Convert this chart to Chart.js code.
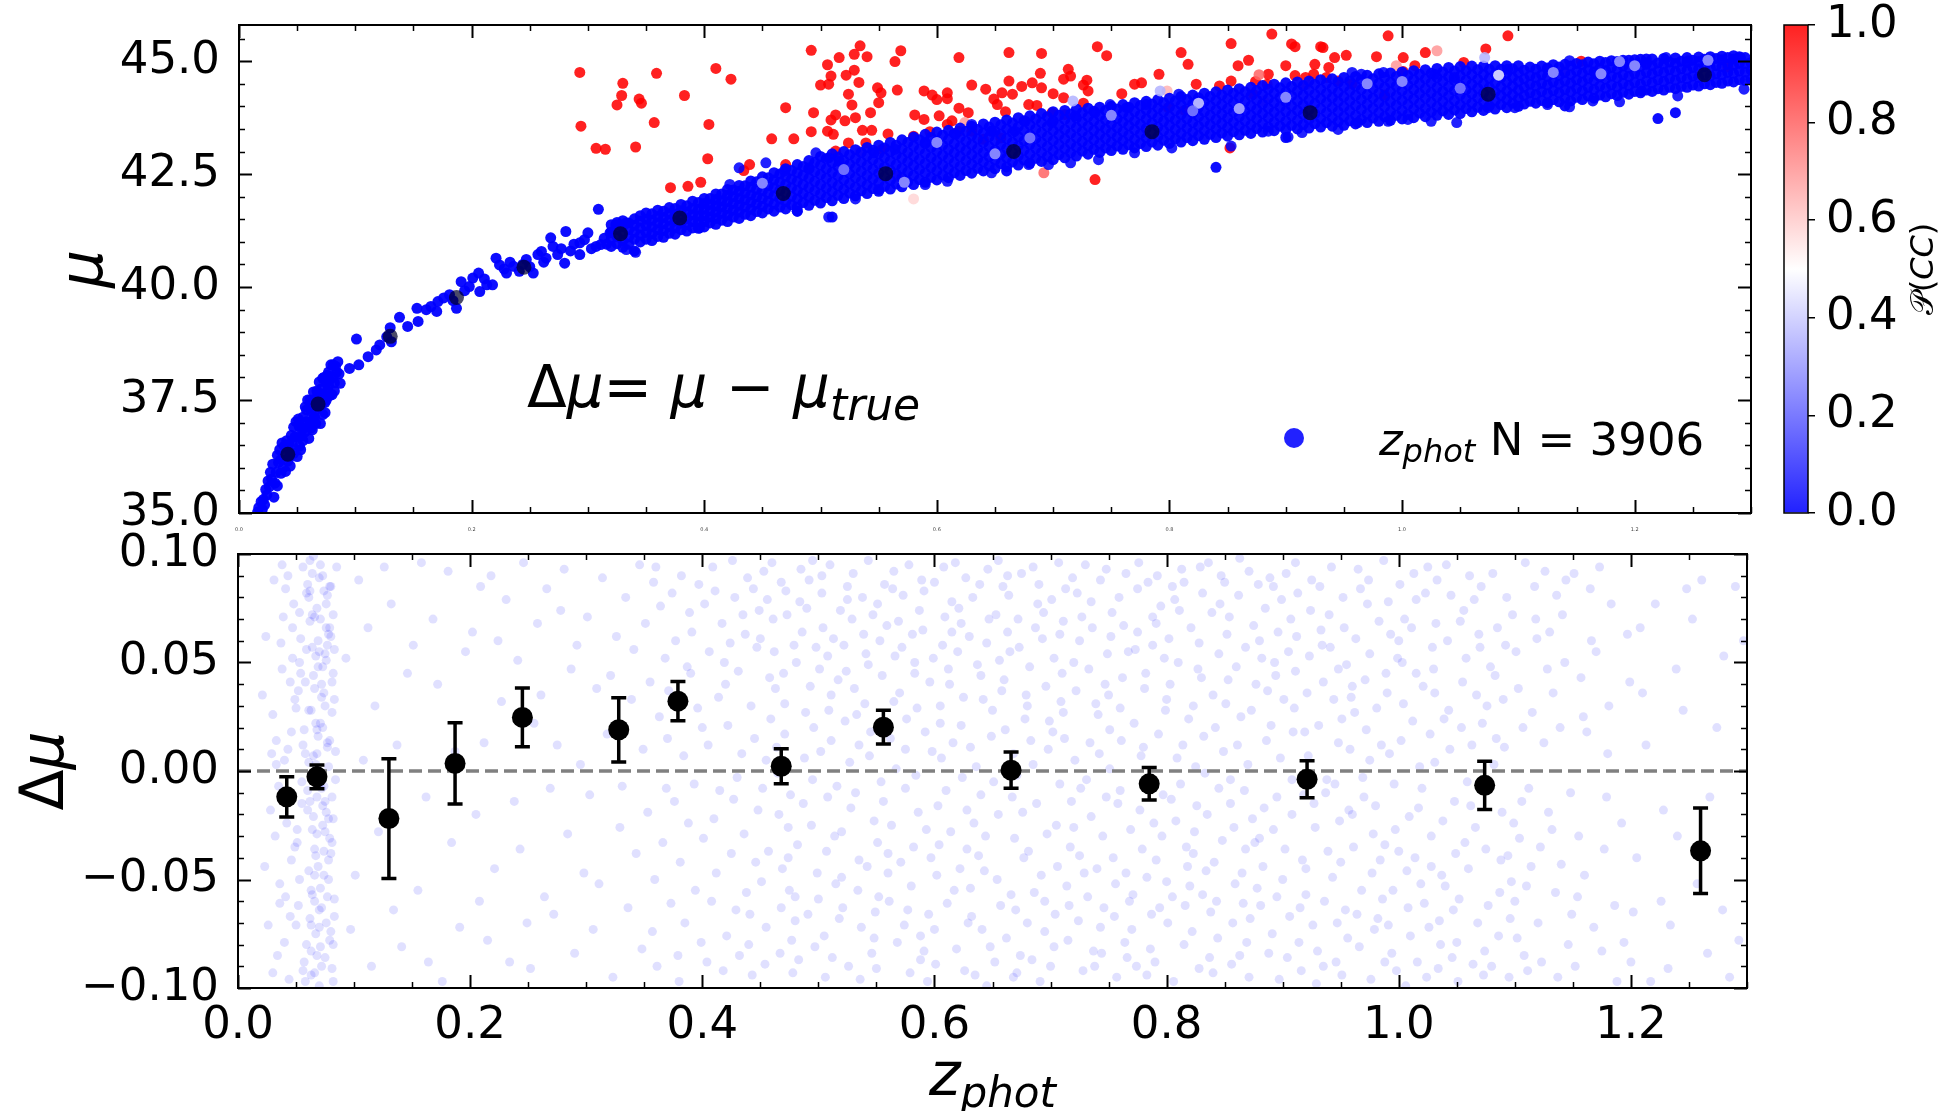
<!DOCTYPE html>
<html>
<head>
<meta charset="utf-8">
<script src="https://cdn.jsdelivr.net/npm/chart.js@4.4.1/dist/chart.umd.min.js"></script>
<style>
  body { margin: 0; background: #fff; width: 1944px; height: 1111px; position: relative; overflow: hidden; }
  canvas { position: absolute; }
</style>
</head>
<body>
<canvas id="topChart" width="1944" height="540" style="left:0;top:0"></canvas>
<canvas id="cbar" width="244" height="540" style="left:1700px;top:0"></canvas>
<canvas id="botChart" width="1944" height="591" style="left:0;top:520px"></canvas>
<script>
// binned means (black markers)
var binZ   = [0.042, 0.068, 0.130, 0.187, 0.245, 0.328, 0.379, 0.468, 0.556, 0.666, 0.785, 0.921, 1.074, 1.260];
var binMu  = [36.30, 37.41, 38.91, 39.77, 40.44, 41.18, 41.53, 42.07, 42.51, 43.00, 43.44, 43.86, 44.27, 44.70];
var binDmu = [-0.0119, -0.0027, -0.0219, 0.0035, 0.0247, 0.0190, 0.0322, 0.0022, 0.0202, 0.0004, -0.0059, -0.0038, -0.0066, -0.0368];
var binErr = [0.0093, 0.0055, 0.0276, 0.0187, 0.0135, 0.0148, 0.0091, 0.0081, 0.0078, 0.0083, 0.0075, 0.0085, 0.0111, 0.0197];

// low-z part of the Hubble diagram, P(CC) ~ 0: flat list z, mu, z, mu, ...
var lowCurve = [
  0.016,35.02, 0.017,35.12, 0.019,35.25, 0.020,35.08, 0.021,35.3, 0.022,35.18, 0.023,35.52, 0.024,35.4, 0.025,35.71,
  0.026,35.58, 0.027,35.9, 0.028,35.75, 0.029,36.08, 0.030,35.35, 0.031,35.66, 0.032,35.9, 0.033,35.6, 0.034,36.12,
  0.035,36.4, 0.036,36.18, 0.037,36.55, 0.038,36.0, 0.039,36.48, 0.033,36.28, 0.036,35.88,
  0.040,35.92, 0.041,36.3, 0.042,36.15, 0.043,36.52, 0.044,36.33, 0.045,36.72, 0.046,36.5, 0.047,36.9, 0.048,36.68,
  0.049,37.02, 0.041,36.6, 0.044,36.04, 0.047,36.32, 0.043,36.22,
  0.050,36.25, 0.051,36.68, 0.052,36.48, 0.053,36.91, 0.054,36.7, 0.055,37.12, 0.056,36.88, 0.057,37.35, 0.058,37.02,
  0.059,37.5, 0.051,37.08, 0.053,36.4, 0.055,36.6, 0.057,36.8, 0.052,36.9, 0.058,37.28,
  0.060,36.65, 0.061,37.02, 0.062,36.88, 0.063,37.31, 0.064,37.1, 0.065,37.52, 0.066,37.28, 0.067,37.7, 0.068,37.45,
  0.069,37.9, 0.061,37.5, 0.062,37.25, 0.064,37.68, 0.066,36.98, 0.067,37.35, 0.063,36.84, 0.069,37.6, 0.065,37.12,
  0.070,36.98, 0.071,37.4, 0.072,37.18, 0.073,37.62, 0.074,37.45, 0.075,37.88, 0.076,37.7, 0.077,38.12, 0.078,37.95,
  0.079,38.28, 0.071,37.75, 0.072,37.98, 0.074,37.22, 0.076,38.05, 0.078,37.6, 0.073,38.0, 0.075,37.5, 0.077,37.82,
  0.080,37.62, 0.081,38.0, 0.082,37.88, 0.083,38.25, 0.084,38.12, 0.085,38.35, 0.086,38.08, 0.087,37.87, 0.082,37.7,
  0.081,38.28, 0.095,38.2, 0.101,38.85, 0.103,38.28, 0.111,38.46, 0.118,38.61, 0.121,38.72, 0.127,38.9, 0.130,39.1,
  0.131,38.79, 0.138,39.33, 0.145,39.13, 0.154,39.24, 0.153,39.53, 0.161,39.5, 0.165,39.57, 0.171,39.68, 0.170,39.46,
  0.176,39.76, 0.181,39.83, 0.184,39.7, 0.187,39.53, 0.191,40.12, 0.194,39.92, 0.198,40.01, 0.201,40.2, 0.206,40.31,
  0.207,39.9, 0.211,40.18, 0.213,40.05, 0.218,40.05, 0.221,40.64, 0.224,40.49, 0.228,40.4, 0.230,40.31, 0.233,40.55,
  0.236,40.46, 0.241,40.35, 0.244,40.5, 0.247,40.61, 0.250,40.45, 0.253,40.31, 0.257,40.72, 0.260,40.79, 0.262,40.55,
  0.264,40.64, 0.268,41.09, 0.270,40.9, 0.274,40.72, 0.277,40.85, 0.280,40.53, 0.281,41.23, 0.285,40.8, 0.288,40.95,
  0.293,40.98, 0.293,40.72, 0.297,41.05, 0.300,41.2, 0.303,40.85, 0.307,40.9, 0.309,41.72, 0.311,40.94, 0.314,41.08,
  0.316,40.95, 0.319,41.2, 0.324,41.38, 0.333,41.42
];

// scattered P(CC) ~ 0 points along the upper and lower edges of the band: z, mu, z, mu, ...
var edgeCurve = [
  0.453,42.75, 0.469,42.57, 0.49,42.64, 0.496,42.97, 0.507,42.86, 0.516,42.79, 0.53,41.95, 0.507,41.55, 0.48,41.68,
  0.546,42.97, 0.564,43.05, 0.59,43.2, 0.616,43.38, 0.63,43.6, 0.647,43.45, 0.667,43.45, 0.676,43.67, 0.699,43.64,
  0.719,43.79, 0.736,43.86, 0.749,44.04, 0.763,43.97, 0.78,44.04, 0.808,44.27, 0.825,44.12, 0.853,43.12,
  0.739,42.82, 0.715,42.75, 0.696,42.71, 0.679,42.71, 0.647,42.53, 0.609,42.34, 0.59,42.27, 0.55,42.16, 0.77,42.97,
  0.802,43.08, 0.957,44.75, 0.965,44.71, 0.984,44.75, 1.028,44.71, 1.045,44.64, 1.091,44.82, 1.125,44.82, 1.144,45.01,
  1.167,44.71, 1.187,44.97, 1.209,44.97, 1.227,45.08, 1.246,45.01, 1.291,45.08, 1.294,44.38, 1.237,44.23, 1.206,44.34,
  1.187,44.1, 1.164,44.12, 1.144,43.99, 1.125,44.04, 1.097,43.97, 1.074,43.97, 1.047,43.64, 1.025,43.67, 1.005,43.71,
  0.988,43.67, 0.962,43.64, 0.945,43.49, 0.914,43.42, 0.902,43.32, 0.885,43.45, 0.396,41.31, 0.341,40.77, 0.333,40.83,
  0.422,42.27, 0.43,42.64
];

// dense part of the Hubble diagram, P(CC) ~ 0: each row is [z, mu, mu, ...]
var bandRows = [
  [0.320,40.9,41.06,41.22,41.38],[0.325,40.96,41.12,41.28,41.43],[0.330,40.88,41.03,41.19,41.34,41.47],[0.335,40.95,41.11,41.27,41.42],
  [0.340,40.8,41.06,41.22,41.37,41.51],[0.345,41.0,41.15,41.31,41.46,41.58],[0.350,41.06,41.21,41.36,41.5,41.64],[0.355,41.03,41.18,41.33,41.48,41.62],
  [0.360,41.12,41.27,41.42,41.56,41.7],[0.365,41.1,41.25,41.4,41.54,41.68],[0.370,41.19,41.34,41.48,41.62,41.76],[0.375,41.17,41.31,41.46,41.61,41.74],
  [0.380,41.27,41.41,41.55,41.69,41.83],[0.385,41.24,41.38,41.52,41.66,41.8],[0.390,41.31,41.45,41.6,41.74,41.9],[0.395,41.3,41.44,41.58,41.72,41.87],
  [0.400,41.33,41.45,41.58,41.72,41.85,41.96],[0.405,41.42,41.55,41.69,41.83,41.96],[0.410,41.39,41.52,41.66,41.8,41.94,42.06],
  [0.415,41.48,41.63,41.77,41.91,42.06],[0.420,41.45,41.59,41.74,41.89,42.03,42.16],[0.425,41.55,41.7,41.85,42.0,42.15],
  [0.430,41.52,41.66,41.81,41.96,42.12,42.25],[0.435,41.61,41.77,41.93,42.08,42.24],[0.440,41.58,41.72,41.88,42.04,42.21,42.35],
  [0.445,41.67,41.84,42.0,42.16,42.33],[0.450,41.64,41.79,41.96,42.13,42.29,42.44],[0.455,41.73,41.9,42.07,42.24,42.42],
  [0.460,41.68,41.84,42.02,42.2,42.37,42.53],[0.465,41.77,41.95,42.14,42.32,42.5],[0.470,41.73,41.89,42.08,42.27,42.45,42.62],
  [0.475,41.82,42.01,42.2,42.39,42.58],[0.480,41.68,41.77,41.95,42.14,42.34,42.53,42.71],[0.485,41.87,42.07,42.27,42.47,42.67],
  [0.490,41.81,41.99,42.2,42.41,42.61,42.8],[0.495,41.92,42.13,42.34,42.55,42.76],[0.500,41.86,42.06,42.27,42.49,42.7,42.89],
  [0.505,41.98,42.19,42.41,42.62,42.84],[0.510,41.55,41.91,42.11,42.32,42.54,42.75,42.95],[0.515,42.03,42.24,42.46,42.67,42.88],
  [0.520,41.96,42.16,42.37,42.59,42.8,43.0],[0.525,42.08,42.29,42.51,42.72,42.93],[0.530,42.02,42.21,42.42,42.64,42.85,43.04],
  [0.535,42.13,42.34,42.56,42.77,42.98],[0.540,42.07,42.26,42.47,42.69,42.9,43.09],[0.545,42.18,42.39,42.61,42.82,43.03],
  [0.550,42.12,42.31,42.52,42.74,42.95,43.14],[0.555,42.23,42.44,42.66,42.87,43.08],[0.560,42.17,42.36,42.58,42.79,43.0,43.2],
  [0.565,42.28,42.5,42.71,42.93,43.14],[0.570,42.22,42.42,42.63,42.85,43.06,43.26],[0.575,42.33,42.55,42.77,42.98,43.2],
  [0.580,42.27,42.47,42.69,42.9,43.12,43.32],[0.585,42.38,42.6,42.82,43.04,43.26],[0.590,42.32,42.52,42.74,42.96,43.18,43.38],
  [0.595,42.43,42.65,42.87,43.09,43.31],[0.600,42.37,42.57,42.79,43.01,43.23,43.43],[0.605,42.48,42.7,42.92,43.14,43.36],
  [0.610,42.42,42.62,42.84,43.05,43.27,43.47],[0.615,42.53,42.75,42.97,43.18,43.4],[0.620,42.47,42.67,42.89,43.1,43.32,43.52],
  [0.625,42.58,42.8,43.02,43.23,43.45],[0.630,42.52,42.72,42.93,43.15,43.36,43.56],[0.635,42.63,42.84,43.06,43.28,43.49],
  [0.640,42.57,42.77,42.98,43.2,43.41,43.61],[0.645,42.68,42.89,43.11,43.33,43.54],[0.650,42.62,42.81,43.03,43.24,43.45,43.65],
  [0.655,42.73,42.94,43.16,43.38,43.59],[0.660,42.57,42.66,42.86,43.07,43.29,43.5,43.7],[0.665,42.77,42.98,43.2,43.42,43.63],
  [0.670,42.7,42.9,43.12,43.33,43.55,43.75],[0.675,42.81,43.03,43.24,43.46,43.68],[0.680,42.74,42.94,43.16,43.37,43.59,43.79],
  [0.685,42.85,43.07,43.29,43.5,43.72],[0.690,42.78,42.98,43.2,43.42,43.64,43.84],[0.695,42.89,43.11,43.33,43.55,43.77],
  [0.700,42.82,43.02,43.24,43.46,43.68,43.88],[0.705,42.93,43.15,43.37,43.58,43.8],[0.710,42.86,43.06,43.28,43.49,43.71,43.91],
  [0.715,42.97,43.18,43.4,43.62,43.83],[0.720,42.9,43.1,43.31,43.53,43.74,43.94],[0.725,43.01,43.22,43.44,43.65,43.86],
  [0.730,42.94,43.13,43.34,43.56,43.77,43.96],[0.735,43.05,43.26,43.47,43.68,43.89],[0.740,42.98,43.17,43.38,43.58,43.79,43.98],
  [0.745,43.08,43.29,43.5,43.7,43.91],[0.750,43.02,43.2,43.41,43.61,43.82,44.0],[0.755,43.12,43.32,43.53,43.73,43.94],
  [0.760,43.05,43.24,43.44,43.65,43.85,44.04],[0.765,43.15,43.36,43.57,43.77,43.98],[0.770,43.08,43.27,43.48,43.68,43.89,44.08],
  [0.775,43.18,43.39,43.6,43.81,44.02],[0.780,43.11,43.3,43.51,43.72,43.92,44.11],[0.785,43.21,43.42,43.63,43.84,44.05],
  [0.790,43.14,43.33,43.54,43.75,43.96,44.15],[0.795,43.25,43.46,43.67,43.88,44.08],[0.800,43.18,43.37,43.58,43.78,43.99,44.18],
  [0.805,43.28,43.49,43.7,43.91,44.12],[0.810,43.21,43.4,43.61,43.82,44.03,44.22],[0.815,43.31,43.52,43.73,43.94,44.15],
  [0.820,43.24,43.43,43.64,43.85,44.06,44.25],[0.825,43.35,43.56,43.77,43.98,44.19],[0.830,43.27,43.46,43.67,43.88,44.1,44.29],
  [0.835,43.38,43.59,43.8,44.01,44.22],[0.840,42.65,43.31,43.5,43.71,43.92,44.13,44.32],[0.845,43.41,43.62,43.83,44.04,44.25],
  [0.850,43.34,43.53,43.74,43.95,44.17,44.36],[0.855,43.44,43.65,43.87,44.08,44.29],[0.860,43.37,43.56,43.77,43.98,44.2,44.39],
  [0.865,43.47,43.68,43.9,44.11,44.32],[0.870,43.4,43.59,43.8,44.01,44.23,44.42],[0.875,43.51,43.72,43.93,44.14,44.35],
  [0.880,43.43,43.62,43.84,44.05,44.26,44.46],[0.885,43.54,43.75,43.96,44.17,44.38],[0.890,43.46,43.65,43.87,44.08,44.29,44.49],
  [0.895,43.56,43.77,43.99,44.2,44.41],[0.900,43.31,43.48,43.67,43.89,44.11,44.32,44.52],[0.905,43.58,43.8,44.01,44.23,44.44],
  [0.910,43.5,43.69,43.91,44.12,44.34,44.54],[0.915,43.6,43.82,44.03,44.25,44.46],[0.920,43.52,43.71,43.93,44.14,44.36,44.56],
  [0.925,43.62,43.84,44.06,44.27,44.49],[0.930,43.54,43.73,43.95,44.17,44.38,44.59],[0.935,43.64,43.86,44.08,44.29,44.51],
  [0.940,43.56,43.75,43.97,44.19,44.4,44.61],[0.945,43.66,43.88,44.1,44.31,44.53],[0.950,43.58,43.77,43.99,44.21,44.43,44.64],
  [0.955,43.68,43.9,44.12,44.34,44.56],[0.960,43.61,43.8,44.02,44.24,44.45,44.66],[0.965,43.71,43.93,44.15,44.37,44.59],
  [0.970,43.64,43.83,44.05,44.26,44.48,44.69],[0.975,43.74,43.96,44.18,44.39,44.61],[0.980,43.67,43.86,44.08,44.29,44.51,44.72],
  [0.985,43.77,43.99,44.21,44.42,44.64],[0.990,43.69,43.88,44.1,44.32,44.53,44.74],[0.995,43.8,44.02,44.23,44.45,44.66],
  [1.000,43.72,43.91,44.13,44.35,44.56,44.76],[1.005,43.82,44.04,44.25,44.47,44.68],[1.010,43.75,43.94,44.16,44.37,44.59,44.79],
  [1.015,43.85,44.06,44.28,44.5,44.71],[1.020,43.77,43.96,44.18,44.39,44.61,44.81],[1.025,43.87,44.09,44.3,44.52,44.73],
  [1.030,43.8,43.99,44.21,44.42,44.64,44.84],[1.035,43.9,44.11,44.33,44.55,44.76],[1.040,43.82,44.01,44.23,44.44,44.66,44.86],
  [1.045,43.92,44.13,44.35,44.57,44.78],[1.050,43.84,44.03,44.25,44.46,44.68,44.88],[1.055,43.95,44.16,44.37,44.58,44.79],
  [1.060,43.88,44.07,44.28,44.49,44.7,44.89],[1.065,43.98,44.19,44.4,44.6,44.81],[1.070,43.91,44.1,44.3,44.5,44.71,44.89],
  [1.075,44.01,44.21,44.42,44.62,44.82],[1.080,43.94,44.12,44.32,44.52,44.72,44.9],[1.085,44.04,44.24,44.43,44.63,44.82],
  [1.090,43.97,44.15,44.34,44.54,44.73,44.9],[1.095,44.07,44.26,44.45,44.64,44.83],[1.100,44.0,44.17,44.36,44.55,44.74,44.9],
  [1.105,44.05,44.24,44.42,44.61,44.8],[1.110,44.11,44.3,44.49,44.68,44.87],[1.115,44.07,44.26,44.45,44.63,44.82],
  [1.120,44.13,44.33,44.51,44.7,44.89],[1.125,44.08,44.28,44.47,44.66,44.85],[1.130,44.15,44.35,44.54,44.73,44.92],
  [1.135,44.1,44.3,44.49,44.68,44.87],[1.140,44.01,44.18,44.37,44.56,44.75,44.93],[1.145,44.12,44.32,44.51,44.7,44.89],
  [1.150,44.2,44.4,44.59,44.78,44.95],[1.155,44.15,44.34,44.54,44.73,44.92],[1.160,44.23,44.42,44.62,44.81,44.98],
  [1.165,44.18,44.37,44.57,44.76,44.94],[1.170,44.25,44.45,44.65,44.84,45.0],[1.175,44.21,44.4,44.6,44.79,44.97],
  [1.180,44.28,44.48,44.67,44.86,45.01],[1.185,44.24,44.43,44.63,44.82,44.99],[1.190,44.31,44.51,44.7,44.89,45.02],
  [1.195,44.27,44.46,44.66,44.85,45.02],[1.200,44.33,44.53,44.73,44.91,45.03],[1.205,44.3,44.49,44.69,44.88,45.04],
  [1.210,44.36,44.56,44.75,44.93,45.05],[1.215,44.33,44.52,44.72,44.9,45.05],[1.220,43.73,44.39,44.59,44.78,44.96],
  [1.225,44.36,44.55,44.75,44.93,45.06],[1.230,44.42,44.62,44.81,44.98],[1.235,43.86,44.39,44.58,44.77,44.95,45.07],
  [1.240,44.44,44.64,44.83,45.0],[1.245,44.42,44.61,44.8,44.97,45.08],[1.250,44.47,44.67,44.86,45.02],
  [1.255,44.45,44.64,44.83,44.99,45.09],[1.260,44.5,44.7,44.88,45.04],[1.265,44.48,44.67,44.86,45.01,45.1],
  [1.270,44.53,44.72,44.9,45.06],[1.275,44.51,44.7,44.88,45.03,45.11],[1.280,44.56,44.75,44.93,45.08],
  [1.285,44.54,44.73,44.91,45.05,45.12],[1.290,44.59,44.78,44.95,45.1],[1.295,44.57,44.76,44.94,45.08],[1.300,44.6,44.8,44.97]
];

// likely core-collapse points: [z, mu, P(CC)]
var ccPts = [
  [0.293,44.75,1],[0.294,43.56,1],[0.307,43.07,1],[0.315,43.05,1],[0.33,44.51,1],[0.329,44.24,1],[0.325,44.03,1],[0.344,44.16,1],
  [0.346,44.07,1],[0.341,43.1,1],[0.359,44.73,1],[0.357,43.64,1],[0.383,44.24,1],[0.41,44.84,1],[0.423,44.6,1],[0.404,43.6,1],
  [0.403,42.84,1],[0.397,42.32,1],[0.386,42.23,1],[0.371,42.2,1],
  [0.492,45.24,1],[0.534,45.34,1],[0.529,45.15,1],[0.54,45.1,1],[0.569,45.23,1],[0.564,44.99,1],[0.619,45.08,1],[0.662,45.19,1],
  [0.69,45.17,1],[0.738,45.32,1],[0.746,45.12,1],[0.81,45.19,1],[0.816,44.93,1],[0.853,45.39,1],[0.859,44.9,1],[0.506,44.92,1],
  [0.516,45.08,1],[0.509,44.67,1],[0.522,44.69,1],[0.529,44.8,1],[0.533,44.53,1],[0.5,44.47,1],[0.507,44.49,1],[0.524,44.27,1],
  [0.549,44.41,1],[0.552,44.3,1],[0.566,44.36,1],[0.527,44.03,1],[0.55,44.08,1],[0.543,43.86,1],[0.47,43.97,1],[0.494,43.86,1],
  [0.458,43.28,1],[0.477,43.28,1],[0.492,43.44,1],[0.506,43.45,1],[0.511,43.38,1],[0.509,43.7,1],[0.513,43.81,1],[0.521,43.68,1],
  [0.53,43.75,1],[0.536,43.47,1],[0.544,43.47,1],[0.558,43.39,1],[0.524,43.19,1],[0.539,43.19,1],[0.553,43.05,1],[0.513,43.01,1],
  [0.47,42.71,1],[0.439,42.71,1],[0.434,42.58,1],[0.589,44.34,1],[0.596,44.25,1],[0.6,44.15,1],[0.609,44.3,1],[0.609,44.17,1],
  [0.581,43.81,1],[0.589,43.71,1],[0.602,43.79,1],[0.613,43.68,1],[0.619,43.96,1],[0.627,43.86,1],[0.63,44.47,1],[0.642,44.38,1],
  [0.649,44.16,1],[0.652,44.04,1],[0.662,44.56,1],[0.656,44.3,1],[0.665,44.27,1],[0.673,44.44,1],[0.682,44.52,1],[0.689,44.73,1],
  [0.69,44.41,1],[0.7,44.28,1],[0.709,44.6,1],[0.713,44.82,1],[0.715,44.67,1],[0.709,44.19,1],[0.729,44.58,1],[0.726,44.47,1],
  [0.73,44.34,1],[0.726,44.07,1],[0.759,44.28,1],[0.77,44.49,1],[0.776,44.52,1],[0.791,44.71,1],[0.823,44.49,1],[0.843,44.45,1],
  [0.853,44.56,1],[0.799,43.97,1],[0.813,43.91,1],[0.659,43.88,1],[0.679,44.04,1],[0.686,44.02,1],[0.699,43.86,1],[0.71,43.82,1],
  [0.58,43.34,1],[0.594,43.44,1],[0.609,43.6,1],[0.619,43.45,1],[0.63,43.45,1],[0.64,43.27,1],[0.647,43.45,1],[0.655,43.3,1],
  [0.692,42.53,0.8],[0.736,42.38,1],[0.852,43.08,1],[0.624,43.64,0.7],[0.534,43.0,0.7],[0.58,41.95,0.58],[0.566,42.45,0.75],
  [0.798,44.34,0.65],
  [0.888,45.6,1],[0.988,45.56,1],[1.091,45.56,1],[0.905,45.38,1],[0.908,45.32,1],[0.93,45.32,1],[0.932,45.3,1],[0.942,45.08,1],
  [0.952,45.13,1],[0.978,45.1,1],[1.001,45.08,1],[1.02,45.19,1],[1.03,45.23,0.7],[1.072,45.27,1],[1.053,44.97,1],[0.9,44.9,1],
  [0.925,44.93,1],[0.937,44.86,1],[0.924,44.71,1],[0.917,44.64,1],[0.908,44.68,1],[0.868,45.02,1],[0.885,44.71,1],[0.874,44.55,1],
  [0.884,44.49,1],[0.935,44.64,1],[0.945,44.56,1],[0.957,44.5,1],[1.001,44.77,1],[1.011,44.9,1],[0.995,44.9,0.7],[1.154,45.0,1],
  [0.985,44.25,1],[0.872,44.27,1],[0.9,44.05,0.7],[0.881,44.12,0.65],[1.28,44.87,1],[1.138,44.78,0.7],[1.117,44.86,0.5],
  [1.071,44.7,0.5],[0.984,44.6,0.5],[0.877,44.7,0.8],[0.917,44.48,0.8]
];

// faint-coloured points inside the band: [z, mu, P(CC)]
var lightPts = [
  [0.572,42.32,0.3],[0.792,44.34,0.35],[0.717,44.12,0.35],[0.825,44.07,0.4],[1.071,45.08,0.35],[1.083,44.69,0.45],
  [1.263,45.02,0.3],[1.187,44.99,0.3],[1.171,44.72,0.3],[0.45,42.3,0.3],[0.52,42.6,0.25],[0.6,43.2,0.3],[0.68,43.3,0.25],
  [0.75,43.8,0.3],[0.82,43.9,0.25],[0.9,44.2,0.3],[0.97,44.5,0.3],[1.05,44.4,0.25],[1.13,44.75,0.3],[1.2,44.9,0.3],
  [0.65,42.95,0.3],[0.86,43.95,0.35],[1.0,44.55,0.3]
];

// Hubble residuals: flat list of z, dmu pairs, both in units of 0.001
var residZD = [
  24,62, 28,-18, 21,35, 26,-71, 29,8, 23,-44,
  31,88, 36,-52, 33,14, 38,47, 30,-93, 35,-7, 39,71, 32,-30, 37,59, 34,-85, 30,26, 36,-61, 33,3, 38,95,
  42,-12, 47,66, 40,-79, 45,41, 49,-35, 43,90, 46,18, 41,-58, 48,77, 44,-96, 40,5, 47,52, 42,-24, 49,33, 45,-67, 41,84, 46,-41, 43,10,
  53,73, 57,-88, 50,29, 55,-15, 59,56, 52,-62, 56,94, 51,-33, 58,8, 54,45, 50,-71, 57,19, 53,-50, 59,82, 55,-5, 52,37, 58,-97, 54,61,
  51,-27, 56,12, 59,-80, 53,50,
  64,91, 61,-46, 67,22, 63,-83, 69,60, 60,-9, 66,38, 62,-68, 68,75, 65,-21, 61,4, 67,53, 63,-94, 69,16, 64,-57, 60,86, 66,-36, 62,69,
  68,-12, 65,44, 67,-75, 63,28, 69,-3, 61,80, 66,-60, 64,57, 68,-29, 62,97,
  71,-54, 74,83, 77,11, 70,-72, 73,48, 76,-19, 79,66, 72,-90, 75,30, 78,-41, 71,95, 74,-7, 77,58, 70,-64, 73,20, 76,77, 79,-31, 72,40,
  75,-86, 78,2, 71,70, 74,-48, 77,13, 70,89, 73,-25, 76,51, 79,-78, 72,34, 75,-14, 78,63,
  81,41, 83,-67, 80,85, 82,-22, 84,9, 81,-91, 83,56, 80,-38, 82,72, 84,-4, 81,27, 83,-59, 85,94, 82,-80,
  56,-92, 58,41, 60,-18, 62,83, 63,-55, 65,7, 66,71, 67,-39, 68,-85, 69,48, 70,-6, 71,22, 72,-63, 73,90, 74,36, 75,-28, 76,-70,
  77,81, 78,-50, 79,14, 80,62, 81,-12, 82,-97, 83,33, 64,-27, 66,-93, 68,19, 70,55, 72,-8, 74,-37, 76,66, 78,-22, 80,-74, 82,45,
  61,28, 63,-71, 65,99, 67,3, 69,-44, 71,-81, 73,-16, 75,54, 77,-58, 79,85, 81,-33, 62,-14, 64,72, 66,-48, 68,8, 70,-99,
  93,52, 97,-73, 101,-48, 104,88, 108,5, 112,66, 115,-90, 118,30, 121,-28, 126,94, 132,77, 134,-64, 137,12, 141,-81, 146,45,
  151,58, 155,-55, 158,96, 162,-12, 164,-88, 168,70, 172,40, 176,-97, 181,92, 184,-33, 187,9, 191,-72, 196,55,
  202,64, 205,-20, 208,-60, 209,85, 212,13, 215,-78, 218,90, 221,-45, 224,60, 227,32, 231,79, 234,-88, 238,-14, 241,51, 243,-36,
  246,96, 249,-70, 252,-91, 255,22, 258,68, 261,35, 264,-58, 266,84, 269,-8, 272,-66, 275,12, 278,74, 281,93, 284,-29, 287,47,
  290,-84, 292,58, 295,3, 298,-47, 301,71, 303,-11, 306,-73, 309,38, 311,-52, 314,89, 318,17, 321,44, 323,-95, 326,62, 329,-26,
  331,-7, 334,80, 336,-63, 339,33, 341,56, 343,-38, 346,95, 348,-82, 349,10,
  351,68, 353,-19, 355,41, 357,-74, 358,87, 359,-50, 361,-90, 363,25, 364,76, 366,-33, 368,52, 369,-8, 360,94, 371,37, 373,-61,
  374,82, 376,-14, 377,60, 379,-85, 370,15, 381,-42, 382,90, 384,7, 385,-70, 387,48, 388,-24, 389,73, 380,-97, 391,64, 393,-6,
  394,-55, 396,29, 397,86, 399,-79, 390,45, 401,-31, 402,77, 404,-88, 405,12, 406,55, 408,-60, 409,94, 400,20, 411,83, 412,-47,
  414,34, 415,-9, 417,68, 418,-92, 419,50, 410,-22, 421,-76, 422,21, 424,59, 425,-38, 426,97, 427,-13, 428,80, 429,-64, 420,40,
  431,46, 432,-85, 434,8, 435,72, 436,-29, 437,63, 438,-56, 439,89, 430,-3, 441,-66, 442,30, 443,-94, 444,84, 445,15, 446,-42,
  447,57, 448,-18, 449,74, 440,-80,
  453,92, 457,-37, 450,61, 455,-72, 459,24, 452,-8, 456,79, 451,-51, 458,43, 454,-89, 455,5,
  466,-20, 461,70, 468,-63, 463,38, 460,96, 469,-45, 464,11, 467,-84, 462,55, 465,-1, 468,87,
  479,58, 474,-26, 472,83, 477,-78, 471,17, 475,-55, 470,45, 478,-93, 473,72, 476,-11, 471,31, 474,-40,
  480,-69, 485,93, 488,6, 482,-34, 486,64, 483,-87, 489,27, 481,50, 487,-15, 484,78, 480,-58,
  493,39, 497,-81, 490,75, 495,-4, 499,-47, 492,88, 496,20, 491,-66, 498,57, 494,-25, 495,97,
  506,-95, 501,47, 508,-12, 503,82, 500,-59, 509,28, 504,66, 507,-37, 502,9, 505,-76, 508,53, 503,90,
  519,74, 514,-30, 512,-86, 517,42, 511,14, 515,-52, 510,95, 518,-68, 513,61, 516,-7, 511,35,
  520,-49, 525,85, 528,-17, 522,58, 526,-90, 523,23, 529,70, 521,-63, 527,4, 524,46, 520,-28, 525,79,
  533,26, 537,-72, 530,91, 535,-41, 539,63, 532,-10, 536,-96, 531,38, 538,80, 534,-55, 535,12,
  546,-84, 541,54, 548,-23, 543,97, 540,31, 549,-65, 544,7, 547,72, 542,-44, 545,18, 548,-77, 543,49,
  559,67, 554,-5, 552,-58, 557,86, 551,-33, 555,44, 550,-91, 558,20, 553,60, 556,-14, 551,77,
  560,-38, 565,92, 568,-79, 562,15, 566,53, 563,-25, 569,69, 561,-60, 567,1, 564,84, 560,-47, 565,32,
  573,81, 577,-64, 570,36, 575,-8, 579,-93, 572,57, 576,24, 571,-42, 578,95, 574,-71, 575,10,
  586,-19, 581,63, 588,-87, 583,45, 580,-53, 589,88, 584,-2, 587,74, 582,-35, 585,29, 588,-76, 583,50,
  599,52, 594,-97, 592,18, 597,-40, 591,83, 595,-66, 590,65, 598,9, 593,-27, 596,41, 591,-83,
  600,-73, 605,30, 608,94, 602,-48, 606,6, 603,-16, 609,71, 601,-89, 607,58, 604,-34, 600,87, 605,22,
  613,40, 617,-55, 610,-9, 615,78, 619,-82, 612,47, 616,13, 611,-61, 618,96, 614,-28, 615,64,
  626,-92, 621,75, 628,-36, 623,21, 620,55, 629,-70, 624,-3, 627,89, 622,-45, 625,34, 628,-18, 623,68,
  639,86, 634,-24, 632,-67, 637,49, 631,11, 635,-94, 630,62, 638,-39, 633,80, 636,2, 631,-54,
  640,-11, 645,59, 648,-81, 642,33, 646,93, 643,-46, 649,16, 641,-73, 647,70, 644,-30, 640,44, 645,-99,
  653,72, 657,-62, 650,28, 655,-20, 659,85, 652,-88, 656,51, 651,-5, 658,37, 654,-50, 655,97,
  666,-57, 661,19, 668,-95, 663,64, 660,42, 669,-31, 664,81, 667,-12, 662,-77, 665,55, 668,8, 663,90,
  679,35, 674,-85, 672,70, 677,-40, 671,-2, 675,91, 670,-64, 678,24, 673,57, 676,-19, 671,-93,
  680,-70, 685,94, 688,-15, 682,48, 686,-56, 683,14, 689,77, 681,-37, 687,66, 684,-87, 680,30, 685,3,
  693,61, 697,-29, 690,86, 695,-74, 699,23, 692,-48, 696,39, 691,-97, 698,10, 694,73, 695,-60,
  706,-44, 701,79, 708,-6, 703,52, 700,-90, 709,32, 704,-66, 707,96, 702,18, 705,-25, 708,63, 703,-81,
  719,89, 714,-53, 712,15, 717,-35, 711,69, 715,-78, 710,45, 718,-14, 713,84, 716,-62, 711,27,
  720,-26, 725,60, 728,-92, 722,37, 726,-8, 723,82, 729,-47, 721,5, 727,71, 724,-69, 720,50, 725,-39,
  733,47, 737,-83, 730,95, 735,-21, 739,31, 732,-58, 736,66, 731,-4, 738,-90, 734,13, 735,78,
  746,-63, 741,26, 748,-12, 743,88, 740,-45, 749,54, 744,-84, 747,40, 742,8, 745,-30, 748,93, 743,-72,
  759,80, 754,-40, 752,62, 757,-95, 751,19, 755,-67, 750,35, 758,-15, 753,73, 756,-52, 751,1,
  760,-9, 765,91, 768,-60, 762,43, 766,-86, 763,67, 769,-27, 761,14, 767,55, 764,-79, 760,29, 765,-47,
  773,56, 777,-18, 770,-73, 775,84, 779,-36, 772,22, 776,96, 771,-57, 778,7, 774,-90, 775,64,
  786,-82, 781,38, 788,71, 783,-49, 780,11, 789,-24, 784,87, 787,-66, 782,45, 785,-3, 788,58, 783,-94,
  799,28, 794,-63, 792,90, 797,-11, 791,-41, 795,76, 790,-88, 798,52, 793,17, 796,-30, 791,68,
  800,-51, 805,85, 808,-23, 802,61, 806,-97, 803,40, 809,6, 801,-70, 807,79, 804,-13, 800,33, 805,-58,
  813,93, 817,-35, 810,50, 815,-80, 819,24, 812,-6, 816,-62, 811,74, 818,-44, 814,12, 815,87,
  826,-16, 821,66, 828,-91, 823,30, 820,-53, 829,94, 824,-28, 827,47, 822,-74, 825,2, 828,59, 823,-38,
  839,73, 834,-46, 832,16, 837,-86, 831,82, 835,-20, 830,43, 838,-65, 833,-1, 836,96, 831,-57,
  840,-93, 845,54, 848,-32, 842,20, 846,77, 843,-60, 849,9, 841,-42, 847,90, 844,-77, 840,35, 845,-8,
  853,42, 857,-70, 850,87, 855,-15, 859,-52, 852,63, 856,-89, 851,31, 858,-26, 854,71, 855,-4,
  866,-61, 861,12, 868,-36, 863,98, 860,48, 869,-79, 864,25, 867,-9, 862,81, 865,-47, 868,57, 863,-85,
  879,86, 874,-22, 872,-68, 877,40, 871,-95, 875,67, 870,3, 878,-54, 873,28, 876,-33, 871,92,
  880,-31, 885,75, 888,-84, 882,52, 886,14, 883,-44, 889,89, 881,-62, 887,37, 884,-17, 880,60,
  893,50, 897,-96, 890,21, 895,-58, 899,79, 892,-27, 896,64, 891,-75, 898,6, 894,44, 895,-12, 892,85,
  906,-67, 901,33, 908,-4, 903,91, 900,-50, 909,18, 904,-86, 907,70, 902,-36, 905,55, 908,-20,
  919,18, 914,-79, 912,62, 917,-41, 911,96, 915,-63, 910,29, 918,-11, 913,82, 916,-92, 911,46,
  920,-45, 925,88, 928,-26, 922,7, 926,-71, 923,53, 929,-98, 921,36, 927,-15, 924,74, 920,-57,
  933,65, 937,-10, 930,-83, 935,41, 939,-37, 932,85, 936,-60, 931,21, 938,-4, 934,58, 935,-90,
  946,-88, 941,57, 948,13, 943,-49, 940,72, 949,-23, 944,33, 947,-70, 942,94, 945,-6, 948,47,
  959,34, 954,-64, 952,80, 957,-18, 951,-94, 955,49, 950,-42, 958,10, 953,66, 956,-77, 951,24,
  960,-20, 965,93, 968,-55, 962,27, 966,-81, 963,61, 969,-3, 961,-35, 967,84, 964,-66, 960,39,
  973,77, 977,-47, 970,-12, 975,54, 979,-73, 972,19, 976,-96, 971,42, 978,-29, 974,88, 975,5,
  986,-59, 981,29, 988,-88, 983,69, 980,-16, 989,45, 984,-41, 987,97, 982,-68, 985,12, 988,-34,
  999,52, 994,-84, 992,8, 997,-27, 991,78, 995,-55, 990,36, 998,-92, 993,63, 996,-6, 991,-71,
  1000,-37, 1005,70, 1008,-63, 1002,14, 1006,-99, 1003,50, 1009,-21, 1001,86, 1007,-46, 1004,31, 1000,60,
  1013,91, 1017,-17, 1010,-76, 1015,45, 1019,-52, 1012,23, 1016,-88, 1011,66, 1018,2, 1014,-40, 1015,79,
  1026,-72, 1021,39, 1028,-30, 1023,82, 1020,-8, 1029,57, 1024,-95, 1027,17, 1022,-61, 1025,94, 1028,-44,
  1039,24, 1034,-91, 1032,68, 1037,-48, 1031,4, 1035,-69, 1030,47, 1038,-23, 1033,88, 1036,-80, 1031,36,
  1040,-53, 1045,81, 1048,-14, 1042,60, 1046,-86, 1043,28, 1049,-38, 1041,95, 1047,-64, 1044,10,
  1053,69, 1057,-33, 1050,-79, 1055,41, 1059,-5, 1052,-59, 1056,74, 1051,-97, 1058,52, 1054,20,
  1066,-26, 1061,90, 1068,-70, 1063,12, 1060,-45, 1069,63, 1064,-89, 1067,35, 1062,-16, 1065,79,
  1079,48, 1074,-83, 1072,22, 1077,-62, 1071,85, 1075,-36, 1070,57, 1078,-7, 1073,-94, 1076,30,
  1080,-90, 1085,66, 1088,-41, 1082,3, 1086,-76, 1083,44, 1089,-19, 1081,91, 1087,-56, 1084,15,
  1093,80, 1097,-51, 1090,33, 1095,-95, 1099,-24, 1092,58, 1096,-68, 1091,11, 1098,72, 1094,-39,
  1106,-14, 1101,55, 1108,-85, 1103,38, 1100,-60, 1109,96, 1104,-31, 1107,20, 1102,-77,
  1119,61, 1114,-44, 1112,-8, 1117,85, 1111,-92, 1115,27, 1110,-53, 1118,70,
  1120,-70, 1125,13, 1128,47, 1122,-35, 1126,92, 1123,-88, 1129,-19,
  1133,36, 1137,-95, 1130,64, 1135,-56, 1139,20, 1132,-27, 1136,81,
  1146,-80, 1141,72, 1148,-10, 1143,50, 1140,-43, 1149,-66, 1144,88,
  1159,25, 1154,-58, 1152,-90, 1157,43, 1151,91, 1155,-30,
  1160,-48, 1165,84, 1168,-72, 1162,18, 1166,60, 1173,94, 1177,-36, 1170,55, 1175,-83, 1179,-12,
  1186,-62, 1181,30, 1188,-97, 1183,77, 1180,8, 1199,41, 1194,-79, 1192,-24, 1197,63,
  1200,-88, 1205,-40, 1208,66, 1202,-65, 1213,12, 1217,-97, 1210,36, 1226,-60, 1221,77, 1228,-18,
  1239,47, 1234,-71, 1232,-91, 1240,-30, 1245,28, 1248,84, 1253,70, 1257,-52, 1266,-84, 1261,88, 1268,-12,
  1279,-64, 1274,20, 1280,53, 1285,-95, 1293,-78, 1297,60, 1290,85
];

// axis ticks
var zTicks = [0, 0.2, 0.4, 0.6, 0.8, 1.0, 1.2];
var muTicks = [35, 37.5, 40, 42.5, 45];
var dmuTicks = [-0.1, -0.05, 0, 0.05, 0.1];
var pccTicks = [0, 0.2, 0.4, 0.6, 0.8, 1.0];

var FONT = '"DejaVu Sans"';
Chart.defaults.font.family = FONT;
Chart.defaults.color = '#000';

function steps(a, b, d) {
  var out = [];
  for (var i = 0; a + i * d <= b + 1e-9; i++) out.push(Math.round((a + i * d) * 1e6) / 1e6);
  return out;
}
function minorOf(all, major) {
  return all.filter(function (v) { return !major.some(function (m) { return Math.abs(m - v) < 1e-9; }); });
}

// bwr colormap with the scatter alpha
function bwr(p, a) {
  var r, g, b;
  if (p < 0.5) { r = g = Math.round(510 * p); b = 255; }
  else { r = 255; g = b = Math.round(510 * (1 - p)); }
  return 'rgba(' + r + ',' + g + ',' + b + ',' + a + ')';
}

function drawRich(ctx, parts, x, y, align, rot) {
  ctx.save();
  ctx.translate(x, y);
  if (rot) ctx.rotate(rot);
  ctx.fillStyle = '#000';
  ctx.textAlign = 'left';
  ctx.textBaseline = 'alphabetic';
  var w = 0;
  parts.forEach(function (p) {
    ctx.font = (p.i ? 'italic ' : '') + p.s + 'px ' + FONT;
    p.w = ctx.measureText(p.t).width;
    w += p.w;
  });
  var cx = align === 'center' ? -w / 2 : 0;
  parts.forEach(function (p) {
    ctx.font = (p.i ? 'italic ' : '') + p.s + 'px ' + FONT;
    ctx.fillText(p.t, cx, p.dy || 0);
    cx += p.w;
  });
  ctx.restore();
}

// inward ticks on all four sides plus the frame
var framePlugin = {
  id: 'frame',
  afterDraw: function (chart, args, o) {
    if (!o.yMajor) return;
    var ctx = chart.ctx, a = chart.chartArea, x = chart.scales.x, y = chart.scales.y;
    ctx.save();
    ctx.strokeStyle = '#000';
    function tx(vals, len, lw) {
      ctx.lineWidth = lw; ctx.beginPath();
      vals.forEach(function (v) {
        var px = Math.round(x.getPixelForValue(v)) + 0.5;
        ctx.moveTo(px, a.bottom); ctx.lineTo(px, a.bottom - len);
        ctx.moveTo(px, a.top); ctx.lineTo(px, a.top + len);
      });
      ctx.stroke();
    }
    function ty(vals, len, lw) {
      ctx.lineWidth = lw; ctx.beginPath();
      vals.forEach(function (v) {
        var py = Math.round(y.getPixelForValue(v)) + 0.5;
        ctx.moveTo(a.left, py); ctx.lineTo(a.left + len, py);
        ctx.moveTo(a.right, py); ctx.lineTo(a.right - len, py);
      });
      ctx.stroke();
    }
    tx(o.xMajor, 13, 2); tx(o.xMinor, 6, 1.5);
    ty(o.yMajor, 13, 2); ty(o.yMinor, 6, 1.5);
    ctx.lineWidth = 2;
    ctx.strokeRect(a.left, a.top, a.right - a.left, a.bottom - a.top);
    ctx.restore();
  }
};

var topDecor = {
  id: 'topDecor',
  afterDraw: function (chart) {
    var ctx = chart.ctx, a = chart.chartArea;
    drawRich(ctx, [{ t: 'μ', s: 60, i: 1 }], 102, (a.top + a.bottom) / 2, 'center', -Math.PI / 2);
    drawRich(ctx, [
      { t: 'Δ', s: 58 }, { t: 'μ', s: 58, i: 1 }, { t: '= ', s: 58 }, { t: 'μ', s: 58, i: 1 },
      { t: ' − ', s: 58 }, { t: 'μ', s: 58, i: 1 }, { t: 'true', s: 44, i: 1, dy: 13 }
    ], a.left + 288, a.top + 382, 'left');
    // legend
    ctx.save();
    ctx.fillStyle = bwr(0, 0.87);
    ctx.beginPath(); ctx.arc(a.right - 457, a.bottom - 75, 10, 0, Math.PI * 2); ctx.fill();
    ctx.restore();
    drawRich(ctx, [
      { t: 'z', s: 45, i: 1 }, { t: 'phot', s: 32, i: 1, dy: 7 }, { t: ' N = 3906', s: 45 }
    ], a.right - 372, a.bottom - 58, 'left');
  }
};

var botDecor = {
  id: 'botDecor',
  beforeDatasetDraw: function (chart, args) {
    if (args.index !== 0) return;
    var ctx = chart.ctx, a = chart.chartArea, x = chart.scales.x, y = chart.scales.y;
    ctx.save();
    ctx.strokeStyle = 'rgb(128,128,128)';
    ctx.lineWidth = 3.5;
    ctx.setLineDash([13, 6]);
    var y0 = y.getPixelForValue(0);
    ctx.beginPath(); ctx.moveTo(a.left, y0); ctx.lineTo(a.right, y0); ctx.stroke();
    ctx.setLineDash([]);
    ctx.strokeStyle = '#000';
    ctx.lineWidth = 3.5;
    binZ.forEach(function (z, i) {
      var px = x.getPixelForValue(z);
      var hi = y.getPixelForValue(binDmu[i] + binErr[i]);
      var lo = y.getPixelForValue(binDmu[i] - binErr[i]);
      ctx.beginPath();
      ctx.moveTo(px, hi); ctx.lineTo(px, lo);
      ctx.moveTo(px - 7.5, hi); ctx.lineTo(px + 7.5, hi);
      ctx.moveTo(px - 7.5, lo); ctx.lineTo(px + 7.5, lo);
      ctx.stroke();
    });
    ctx.restore();
  },
  afterDraw: function (chart) {
    var ctx = chart.ctx, a = chart.chartArea;
    drawRich(ctx, [{ t: 'Δ', s: 60 }, { t: 'μ', s: 60, i: 1 }], 63, (a.top + a.bottom) / 2, 'center', -Math.PI / 2);
    drawRich(ctx, [{ t: 'z', s: 60, i: 1 }, { t: 'phot', s: 42, i: 1, dy: 12 }], (a.left + a.right) / 2, 575, 'center');
  }
};

function noPadY(s) { s.paddingTop = 0; s.paddingBottom = 0; }
function noPadX(s) { s.paddingLeft = 0; s.paddingRight = 0; }

var curvePts = [];
for (var i = 0; i < lowCurve.length; i += 2) curvePts.push({ x: lowCurve[i], y: lowCurve[i + 1] });
bandRows.forEach(function (r) { for (var k = 1; k < r.length; k++) curvePts.push({ x: r[0], y: r[k] }); });
var edgePts = [];
for (var e = 0; e < edgeCurve.length; e += 2) edgePts.push({ x: edgeCurve[e], y: edgeCurve[e + 1] });
var residPts = [];
for (var j = 0; j < residZD.length; j += 2) residPts.push({ x: residZD[j] / 1000, y: residZD[j + 1] / 1000 });

var zAll = steps(0, 1.3, 0.05);

new Chart(document.getElementById('topChart'), {
  type: 'scatter',
  data: {
    datasets: [
      { data: binZ.map(function (z, i) { return { x: z, y: binMu[i] }; }), pointRadius: 7.5, pointBorderWidth: 0,
        pointBackgroundColor: 'rgba(0,0,40,0.7)', clip: 0 },
      { data: lightPts.map(function (p) { return { x: p[0], y: p[1] }; }), pointRadius: 5.5, pointBorderWidth: 0,
        pointBackgroundColor: lightPts.map(function (p) { return bwr(p[2], 0.87); }), clip: 0 },
      { data: curvePts, pointRadius: 5.5, pointBorderWidth: 0, pointBackgroundColor: bwr(0, 0.95), clip: 0 },
      { data: edgePts, pointRadius: 5.5, pointBorderWidth: 0, pointBackgroundColor: bwr(0, 0.87), clip: 0 },
      { data: ccPts.map(function (p) { return { x: p[0], y: p[1] }; }), pointRadius: 5.5, pointBorderWidth: 0,
        pointBackgroundColor: ccPts.map(function (p) { return bwr(p[2], 0.87); }), clip: 0 }
    ]
  },
  options: {
    responsive: false, animation: false, devicePixelRatio: 1, events: [],
    layout: { padding: { left: 0, right: 193, top: 25, bottom: 0 } },
    plugins: {
      legend: { display: false }, tooltip: { enabled: false },
      frame: { xMajor: zTicks, xMinor: minorOf(zAll, zTicks), yMajor: muTicks, yMinor: minorOf(steps(35, 45.8, 0.5), muTicks) }
    },
    scales: {
      x: {
        type: 'linear', min: 0, max: 1.3,
        grid: { display: false }, border: { display: false },
        ticks: { font: { size: 5 }, padding: 6, autoSkip: false, maxRotation: 0, color: '#444',
          callback: function (v) { return v.toFixed(1); } },
        afterBuildTicks: function (s) { s.ticks = zTicks.map(function (v) { return { value: v }; }); },
        afterFit: function (s) { s.height = 27; noPadX(s); }
      },
      y: {
        min: 35, max: 45.8,
        grid: { display: false }, border: { display: false },
        ticks: { font: { size: 45 }, padding: 11, autoSkip: false, color: '#000',
          callback: function (v) { return v.toFixed(1); } },
        afterBuildTicks: function (s) { s.ticks = muTicks.map(function (v) { return { value: v }; }); },
        afterFit: function (s) { s.width = 239; noPadY(s); }
      }
    }
  },
  plugins: [framePlugin, topDecor]
});

new Chart(document.getElementById('cbar'), {
  type: 'bar',
  data: {
    labels: [''],
    datasets: [{
      data: [1], barPercentage: 1, categoryPercentage: 1, borderWidth: 0,
      backgroundColor: function (c) {
        var area = c.chart.chartArea;
        if (!area) return bwr(0, 0.87);
        var g = c.chart.ctx.createLinearGradient(0, area.bottom, 0, area.top);
        g.addColorStop(0, bwr(0, 0.87));
        g.addColorStop(0.5, bwr(0.5, 0.87));
        g.addColorStop(1, bwr(1, 0.87));
        return g;
      }
    }]
  },
  options: {
    responsive: false, animation: false, devicePixelRatio: 1, events: [],
    layout: { padding: { left: 84, right: 0, top: 25, bottom: 27 } },
    plugins: { legend: { display: false }, tooltip: { enabled: false } },
    scales: {
      x: { display: false },
      y: {
        position: 'right', min: 0, max: 1,
        grid: { drawOnChartArea: false, drawTicks: true, tickLength: 7, color: '#000', lineWidth: 1.5 },
        border: { display: false },
        ticks: { font: { size: 45 }, padding: 11, color: '#000', callback: function (v) { return v.toFixed(1); } },
        afterBuildTicks: function (s) { s.ticks = pccTicks.map(function (v) { return { value: v }; }); },
        afterFit: function (s) { s.width = 136; noPadY(s); }
      }
    }
  },
  plugins: [{
    id: 'cbarFrame',
    afterDraw: function (chart) {
      var ctx = chart.ctx, a = chart.chartArea;
      ctx.save();
      ctx.strokeStyle = '#000'; ctx.lineWidth = 1.5;
      ctx.strokeRect(a.left, a.top, a.right - a.left, a.bottom - a.top);
      ctx.restore();
      drawRich(ctx, [{ t: '𝒫', s: 32 }, { t: '(', s: 32 }, { t: 'CC', s: 32, i: 1 }, { t: ')', s: 32 }],
        233, (a.top + a.bottom) / 2, 'center', -Math.PI / 2);
    }
  }]
});

new Chart(document.getElementById('botChart'), {
  type: 'scatter',
  data: {
    datasets: [
      { data: binZ.map(function (z, i) { return { x: z, y: binDmu[i] }; }), pointRadius: 10.5, pointBorderWidth: 0,
        pointBackgroundColor: '#000', clip: 0 },
      { data: residPts, pointRadius: 4.5, pointBorderWidth: 0, pointBackgroundColor: 'rgba(0,0,255,0.12)', clip: 0 }
    ]
  },
  options: {
    responsive: false, animation: false, devicePixelRatio: 1, events: [],
    layout: { padding: { left: 0, right: 197, top: 34, bottom: 0 } },
    plugins: {
      legend: { display: false }, tooltip: { enabled: false },
      frame: { xMajor: zTicks, xMinor: minorOf(zAll, zTicks), yMajor: dmuTicks, yMinor: minorOf(steps(-0.1, 0.1, 0.01), dmuTicks) }
    },
    scales: {
      x: {
        type: 'linear', min: 0, max: 1.3,
        grid: { display: false }, border: { display: false },
        ticks: { font: { size: 45 }, padding: 3, autoSkip: false, maxRotation: 0, color: '#000',
          callback: function (v) { return v.toFixed(1); } },
        afterBuildTicks: function (s) { s.ticks = zTicks.map(function (v) { return { value: v }; }); },
        afterFit: function (s) { s.height = 123; noPadX(s); }
      },
      y: {
        min: -0.1, max: 0.1,
        grid: { display: false }, border: { display: false },
        ticks: { font: { size: 45 }, padding: 11, autoSkip: false, color: '#000',
          callback: function (v) { return v.toFixed(2).replace('-', '\u2212'); } },
        afterBuildTicks: function (s) { s.ticks = dmuTicks.map(function (v) { return { value: v }; }); },
        afterFit: function (s) { s.width = 238; noPadY(s); }
      }
    }
  },
  plugins: [framePlugin, botDecor]
});
</script>
</body>
</html>
